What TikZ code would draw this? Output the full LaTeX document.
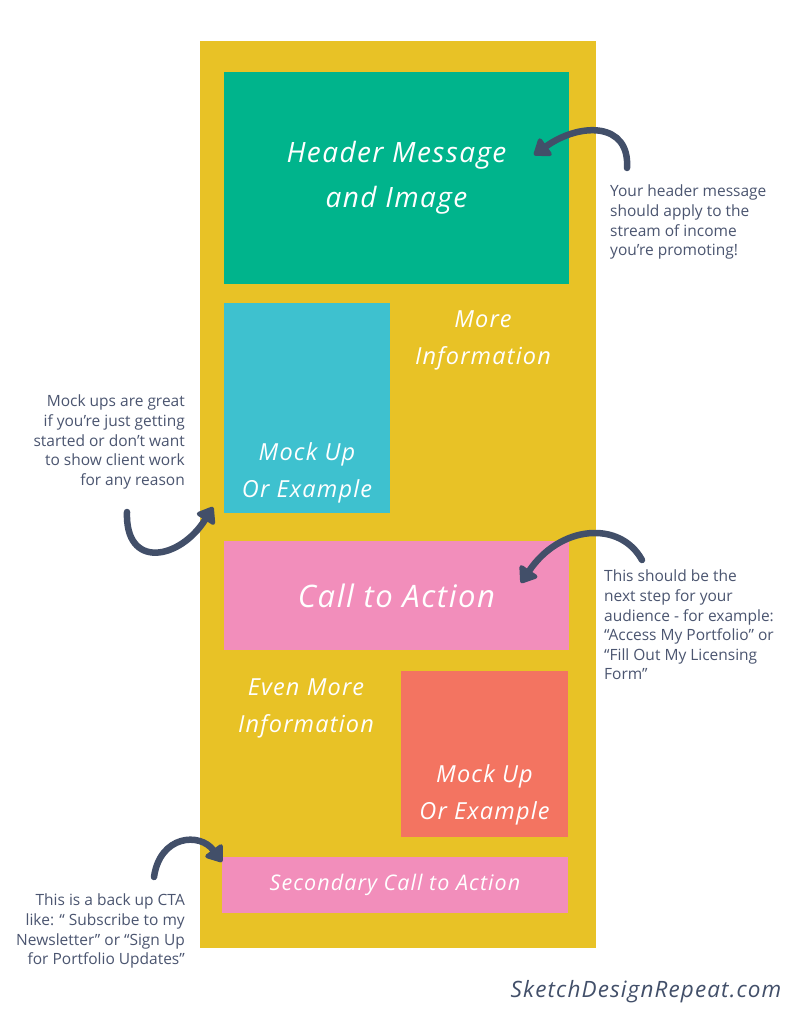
\documentclass[tikz,border=0pt]{standalone}
\usepackage{fontspec}
\setmainfont{Open Sans}
\newfontfamily\handfont{Open Sans}[LetterSpace=5]
\usetikzlibrary{positioning,arrows.meta}
\definecolor{panelyellow}{HTML}{E8C226}
\definecolor{headgreen}{HTML}{00B48C}
\definecolor{mockcyan}{HTML}{3EC1CF}
\definecolor{ctapink}{HTML}{F28EBB}
\definecolor{mocksalmon}{HTML}{F37461}
\definecolor{arrowslate}{HTML}{424F69}
\definecolor{notegray}{HTML}{4B5570}

\begin{document}
\begin{tikzpicture}[x=1pt,y=-1pt,
  blk/.style={inner sep=0pt,outer sep=0pt,anchor=north west,text=white,align=center,
    font=\handfont\itshape\fontsize{28}{45}\selectfont},
  hand/.style={inner sep=0pt,text=white,align=center,font=\handfont\itshape\fontsize{23.5}{37}\selectfont},
  note/.style={inner sep=0pt,text=notegray,font=\fontsize{15.5}{19.6}\selectfont},
  curl/.style={draw=arrowslate,line width=6.5pt,line cap=round,line join=round,
    -{Triangle[length=17pt,width=24pt,round]}}]
\useasboundingbox[fill=white] (0,0) rectangle (791,1024);
% ---- yellow page ----
\node[blk,fill=panelyellow,minimum width=396pt,minimum height=907pt] (page) at (200,41) {};
% ---- blocks ----
\node[blk,fill=headgreen,minimum width=345pt,minimum height=212pt] (head) at (224,72)
 {Header Message\\and Image};
\node[blk,fill=mockcyan,minimum width=166pt,minimum height=210pt] (mockA) at (224,303) {};
\node[hand,above=10pt of mockA.south] (mockAt) {Mock Up\\Or Example};
\node[hand] (moreinfo) at (483,340) {More\\Information};
\node[blk,fill=ctapink,minimum width=345pt,minimum height=109pt,
  font=\handfont\itshape\fontsize{31}{34}\selectfont] (cta) at (224,541) {Call to Action};
\node[hand] (evenmore) at (306,708) {Even More\\Information};
\node[blk,fill=mocksalmon,minimum width=167pt,minimum height=166pt] (mockB) at (401,671) {};
\node[hand,above=12pt of mockB.south] (mockBt) {Mock Up\\Or Example};
\node[blk,fill=ctapink,minimum width=346pt,minimum height=56pt,
  font=\handfont\itshape\fontsize{21.5}{24}\selectfont] (cta2) at (222,857) {Secondary Call to Action};
% ---- side notes ----
\node[note,anchor=north west,align=left] (noteA) at (610,185)
 {Your header message\\should apply to the\\stream of income\\you’re promoting!};
\node[note,anchor=north east,align=right] (noteB) at (185,395)
 {Mock ups are great\\if you’re just getting\\started or don’t want\\to show client work\\for any reason};
\node[note,anchor=north west,align=left] (noteC) at (604,570)
 {This should be the\\next step for your\\audience - for example:\\“Access My Portfolio” or\\“Fill Out My Licensing\\Form”};
\node[note,anchor=north east,align=right] (noteD) at (185,894)
 {This is a back up CTA\\like: “ Subscribe to my\\Newsletter” or “Sign Up\\for Portfolio Updates”};
\node[text=arrowslate,font=\handfont\itshape\fontsize{22.5}{24}\selectfont] (site) at (646,992)
 {SketchDesignRepeat.com};
% ---- arrows ----
\coordinate (tailA) at (627,168);
\coordinate (tipA) at (534,155);
\coordinate (tailB) at (127,512);
\coordinate (tipB) at (213,507);
\coordinate (tailC) at (642,560);
\coordinate (tipC) at (521,583);
\coordinate (tailD) at (154,877);
\coordinate (tipD) at (222,862);
\draw[curl] (tailA) .. controls (630,122) and (580,122) .. (tipA);
\draw[curl] (tailB) .. controls (125,570) and (180,560) .. (tipB);
\draw[curl] (tailC) .. controls (620,520) and (560,525) .. (tipC);
\draw[curl] (tailD) .. controls (160,835) and (200,832) .. (tipD);
\end{tikzpicture}
\end{document}
